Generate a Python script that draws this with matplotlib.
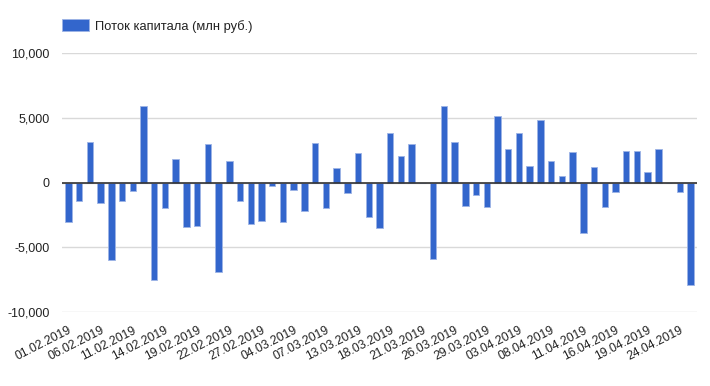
import numpy as np
import pandas as pd
import matplotlib.pyplot as plt
from matplotlib.ticker import FuncFormatter

plt.rcParams['font.family'] = ['Liberation Sans', 'DejaVu Sans']

# trading days 01.02.2019 - 25.04.2019 (08.03 is a holiday)
dates = pd.bdate_range('2019-02-01', '2019-04-25')
dates = dates[dates != pd.Timestamp('2019-03-08')]
labels = [d.strftime('%d.%m.%Y') for d in dates]

flow = [-3070, -1400, 3150, -1560, -6020, -1400, -625, 5890, -7550, -1980,
        1820, -3440, -3360, 3000, -6900, 1690, -1400, -3230, -3000, -290,
        -3070, -550, -2210, 3050, -1980, 1090, -830, 2240, -2660, -3520,
        3850, 2030, 2990, -40, -5890, 5890, 3150, -1850, -960, -1900,
        5160, 2550, 3800, 1250, 4790, 1690, 520, 2340, -3930, 1170,
        -1900, -755, 2470, 2420, 830, 2550, 0, -755, -7920]

series_name = 'Поток капитала (млн руб.)'

fig = plt.figure(figsize=(7.1, 3.86), dpi=100)
ax = fig.add_axes([62 / 710, 1 - 312 / 386, 635 / 710, 259 / 386])

x = np.arange(len(flow))
ax.bar(x, flow, width=0.6, color='#3366cc', edgecolor='#9db4e6',
       linewidth=0.6, label=series_name, zorder=3)

ax.set_ylim(-10000, 10000)
ax.set_xlim(-0.6, len(flow) - 0.4)
ax.set_yticks([-10000, -5000, 0, 5000, 10000])
ax.yaxis.set_major_formatter(FuncFormatter(lambda v, p: f'{int(v):,}'))
ax.grid(axis='y', color='#d9d9d9', linewidth=1, zorder=0)
ax.axhline(0, color='#333333', linewidth=1.2, zorder=4)

ax.set_xticks(x[::3])
ax.set_xticklabels(labels[::3], rotation=27, ha='right', rotation_mode='anchor')
ax.tick_params(axis='both', length=0, labelsize=9, colors='#222222')
ax.tick_params(axis='x', labelsize=8.7, pad=9)
ax.tick_params(axis='y', pad=9)
for s in ax.spines.values():
    s.set_visible(False)

ax.legend(loc='center left', bbox_to_anchor=(0, 1.104), frameon=False,
          borderpad=0, borderaxespad=0, handlelength=2.1, handleheight=1.0,
          handletextpad=0.45, fontsize=9.3, labelcolor='#222222')

plt.savefig('out.png', dpi=100)
